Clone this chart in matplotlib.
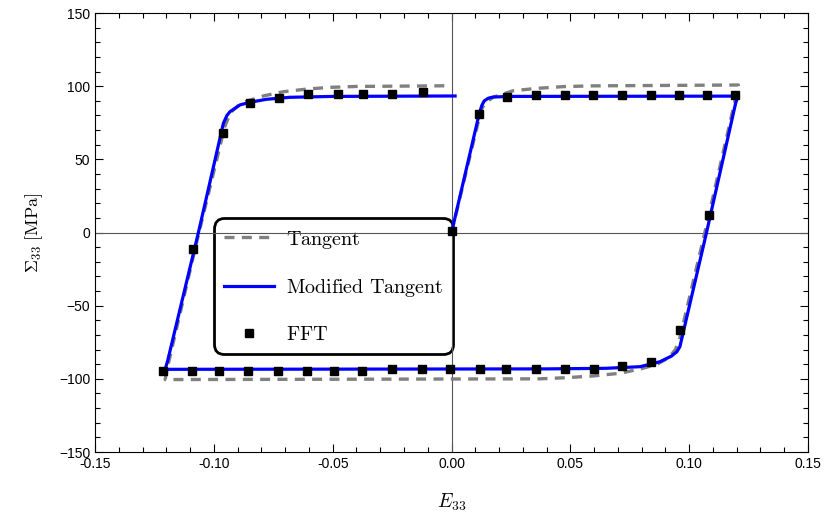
import numpy as np
import matplotlib
matplotlib.use("Agg")
import matplotlib.pyplot as plt
from matplotlib.ticker import MultipleLocator, FormatStrFormatter

plt.rcParams['mathtext.fontset'] = 'cm'
plt.rcParams['font.family'] = ['Liberation Sans', 'DejaVu Sans']

# Modified tangent (blue) path
mod_strain = [0.0, 0.0117, 0.0128, 0.0138, 0.0155, 0.0176, 0.025, 0.1205,
              0.1195, 0.1073, 0.0961, 0.0948, 0.0925, 0.0877, 0.0793, 0.065, 0.04, -0.1205,
              -0.1195, -0.1065, -0.096, -0.0945, -0.0932, -0.089, -0.0848, -0.078, -0.068, -0.05, 0.0015]
mod_stress = [0.0, 81.5, 87.0, 90.0, 91.8, 92.6, 93.0, 93.2,
              88.0, 0.0, -78.0, -81.5, -84.5, -88.3, -91.7, -92.8, -93.2, -93.5,
              -88.0, 0.0, 74.6, 80.0, 82.6, 87.2, 89.0, 91.0, 92.4, 93.0, 93.3]

# Tangent (gray dashed) path
tan_strain = [0.0, 0.0125, 0.0145, 0.0176, 0.026, 0.036, 0.047, 0.059, 0.1207,
              0.1197, 0.1066, 0.0958, 0.0942, 0.0915, 0.0865, 0.080, 0.0709, 0.0597, 0.0485, 0.037, -0.1205,
              -0.1195, -0.107, -0.0955, -0.093, -0.0885, -0.0792, -0.0708, -0.061, -0.0511, -0.04, 0.0]
tan_stress = [0.0, 84.0, 89.0, 92.5, 96.9, 98.5, 99.7, 100.2, 100.8,
              93.0, 0.0, -74.0, -80.0, -85.5, -90.0, -93.0, -96.2, -98.0, -99.2, -100.0, -100.5,
              -92.0, -5.0, 72.0, 82.0, 88.5, 93.3, 96.2, 98.0, 99.2, 99.8, 100.3]

# FFT points
fft_strain = [0.0, 0.0117, 0.0232, 0.0356, 0.0478, 0.0594, 0.0716, 0.0838, 0.0959, 0.1077, 0.1192,
              0.1084, 0.0961, 0.0838, 0.0716, 0.06, 0.0478, 0.0354, 0.0231, 0.0118, -0.0007,
              -0.0125, -0.0252, -0.0378, -0.0493, -0.0609, -0.0731, -0.0855, -0.0978, -0.1093, -0.1215,
              -0.1088, -0.0963, -0.0848, -0.0725, -0.0603, -0.0479, -0.0371, -0.0249, -0.0119]
fft_stress = [1.0, 80.8, 92.8, 94.2, 94.2, 94.2, 94.2, 94.2, 94.2, 94.2, 94.2,
              12.0, -66.6, -88.3, -91.0, -93.0, -93.0, -93.0, -93.0, -93.0, -93.0,
              -93.0, -93.0, -94.5, -94.5, -94.5, -94.5, -94.5, -94.5, -94.5, -94.7,
              -11.0, 68.0, 88.7, 92.0, 94.7, 94.7, 94.7, 94.7, 96.2]

fig = plt.figure(figsize=(8.25, 5.18), dpi=100)
ax = fig.add_axes([0.1152, 0.1274, 0.8642, 0.8475])

ax.axhline(0, color='#555555', lw=0.8, zorder=2)
ax.axvline(0, color='#555555', lw=0.8, zorder=2)

ax.plot(tan_strain, tan_stress, color='gray', lw=2.4, ls=(0, (3, 2.2)), label=r'$\mathrm{Tangent}$', zorder=3)
ax.plot(mod_strain, mod_stress, color='#0000ff', lw=2.3, label=r'$\mathrm{Modified\ Tangent}$', zorder=4)
ax.plot(fft_strain, fft_stress, 's', color='black', ms=6, label=r'$\mathrm{FFT}$', zorder=5)

ax.set_xlim(-0.15, 0.15)
ax.set_ylim(-150, 150)
ax.xaxis.set_major_locator(MultipleLocator(0.05))
ax.xaxis.set_minor_locator(MultipleLocator(0.01))
ax.yaxis.set_major_locator(MultipleLocator(50))
ax.yaxis.set_minor_locator(MultipleLocator(10))
ax.xaxis.set_major_formatter(FormatStrFormatter('%.2f'))
ax.tick_params(which='both', direction='in', top=True, right=True, labelsize=10, width=0.8)
ax.tick_params(which='major', length=6)
ax.tick_params(which='minor', length=3.5)
for s in ax.spines.values():
    s.set_linewidth(0.8)

ax.set_xlabel(r'$E_{33}$', fontsize=14, labelpad=15)
ax.set_ylabel(r'$\Sigma_{33}\ [\mathrm{MPa}]$', fontsize=13, labelpad=10)

leg = ax.legend(loc='upper left', bbox_to_anchor=(0.1669, 0.532), borderaxespad=0, fontsize=14.5,
                labelspacing=1.3, handlelength=2.5, handletextpad=0.55, borderpad=0.5,
                framealpha=1, fancybox=True)
frame = leg.get_frame()
frame.set_edgecolor('black')
frame.set_linewidth(2)
frame.set_boxstyle('round', pad=0.0, rounding_size=0.5)
leg.set_zorder(1.5)

fig.savefig('out.png', dpi=100)
